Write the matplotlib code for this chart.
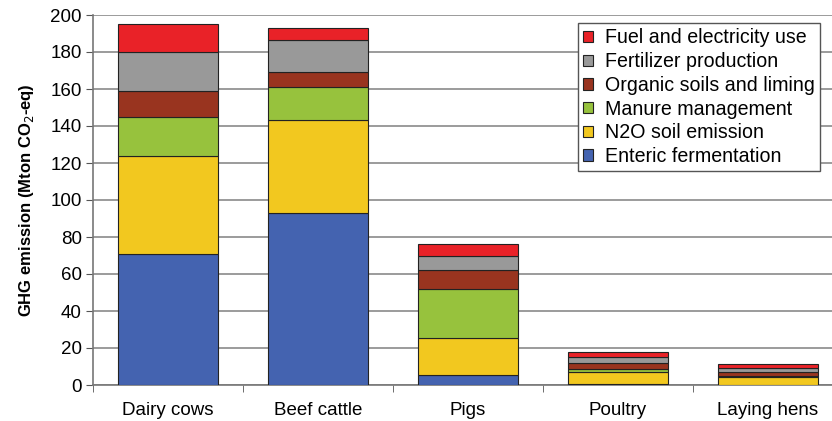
import matplotlib
matplotlib.use("Agg")
import matplotlib.pyplot as plt
import numpy as np

plt.rcParams['font.family'] = ['Liberation Sans', 'DejaVu Sans']

categories = ["Dairy cows", "Beef cattle", "Pigs", "Poultry", "Laying hens"]
series_names = ["Enteric fermentation", "N2O soil emission", "Manure management",
                "Organic soils and liming", "Fertilizer production", "Fuel and electricity use"]
enteric = [71, 93, 5.5, 0.3, 0.2]
n2o_soil = [53, 50, 20, 6.7, 4.1]
manure = [21, 18, 26.5, 1.8, 0.6]
organic = [14, 8, 10, 3.3, 2.3]
fertilizer = [21, 17.5, 8, 2.8, 1.8]
fuel = [15, 6.5, 6, 3.1, 2.2]
yticks = [0, 20, 40, 60, 80, 100, 120, 140, 160, 180, 200]

series = [enteric, n2o_soil, manure, organic, fertilizer, fuel]
colors = ["#4463B0", "#F2C81F", "#97C23D", "#99341F", "#999999", "#E92228"]

fig = plt.figure(figsize=(8.32, 4.21), dpi=100)
ax = fig.add_axes([93/832, 36/421, 750/832, 370/421])

x = np.arange(len(categories))
bottom = np.zeros(len(categories))
handles = []
for name, vals, col in zip(series_names, series, colors):
    b = ax.bar(x, vals, width=0.667, bottom=bottom, color=col, edgecolor="#222222",
               linewidth=0.8, label=name, zorder=3)
    handles.append(b)
    bottom += np.array(vals)

ax.set_xlim(-0.5, 4.5)
ax.set_ylim(0, 200)
ax.set_yticks(yticks)
ax.tick_params(axis='y', labelsize=13.5, length=5, direction='out', color='#555555', pad=3)
ax.set_xticks(x)
ax.set_xticklabels(categories, fontsize=13.5)
ax.tick_params(axis='x', which='major', length=0, pad=12)
ax.set_xticks(np.arange(-0.5, 5.0, 1.0), minor=True)
ax.tick_params(axis='x', which='minor', length=5, direction='out', color='#555555')

ax.yaxis.grid(True, color='#8a8a8a', linewidth=1.2, zorder=0)
for s in ['top', 'right']:
    ax.spines[s].set_visible(False)
ax.spines['left'].set_color('#777777')
ax.spines['bottom'].set_color('#777777')
ax.spines['left'].set_linewidth(1.2)
ax.spines['bottom'].set_linewidth(1.2)

ax.set_ylabel("GHG emission (Mton CO$_2$-eq)", fontsize=12, fontweight='bold', labelpad=10)

leg = fig.legend(handles[::-1], series_names[::-1], loc='upper left',
                 bbox_to_anchor=(578/832, 1 - 23/421), fontsize=14.1, frameon=True,
                 fancybox=False, edgecolor='#555555', framealpha=1,
                 handlelength=0.5, handleheight=0.5, handletextpad=0.6,
                 labelspacing=0.24, borderpad=0.28, borderaxespad=0)
leg.get_frame().set_linewidth(1.0)

fig.savefig("out.png", dpi=100)
